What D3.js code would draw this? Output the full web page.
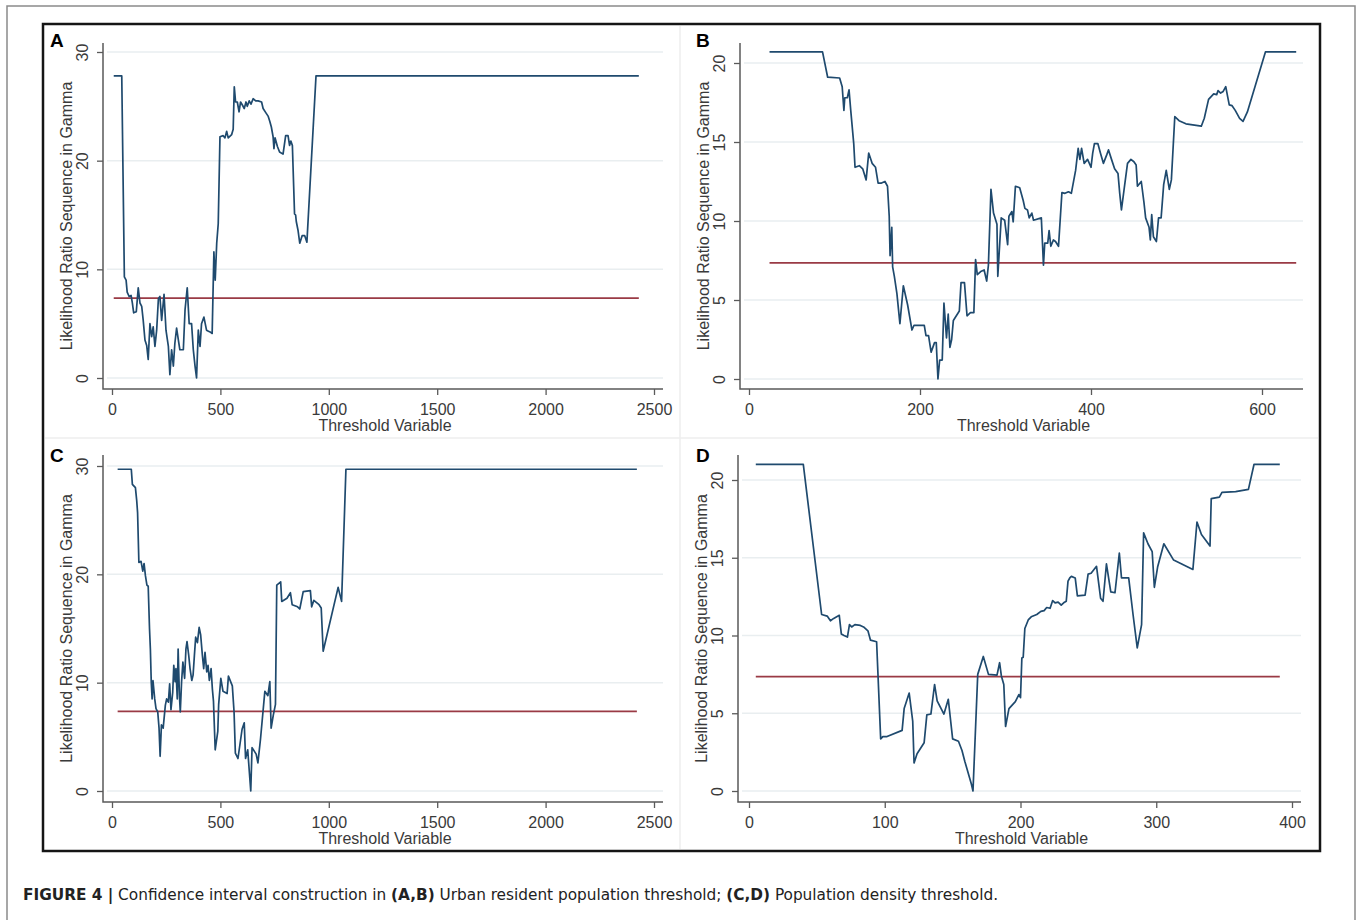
<!DOCTYPE html>
<html lang="en">
<head>
<meta charset="UTF-8">
<script src="https://d3js.org/d3.v7.min.js"></script>
<style>
  body { margin: 0; background: #fff; }
  text { font-family: 'Liberation Sans', Arial, sans-serif; fill: #3a3a3a; }
  .tick line { stroke: #5a5a5a; }
</style>
<title>Figure 4</title>
</head>
<body>
<div class="canvas"></div>
<script>
// threshold value (x) and likelihood ratio (y)
const aThreshold = [8,45,57,65,70,79,88,94,100,112,121,129,137,144,152,160,167,175,183,190,198,206,214,221,229,240,249,260,267,275,283,290,298,306,313,329,337,347,356,367,375,383,390,398,406,413,424,436,445,455,462,470,476,483,490,498,513,521,529,536,552,559,564,570,578,586,593,602,610,618,624,633,641,651,663,674,690,697,710,720,728,735,743,747,752,763,773,789,801,812,819,825,832,838,842,847,850,858,866,877,889,899,941,2430]
const aLR = [27.8,27.8,9.3,9.0,7.9,7.5,7.6,6.9,6.0,6.1,8.3,6.9,6.6,5.3,3.5,3.0,1.7,5.0,3.8,4.7,2.9,4.4,7.3,7.5,5.3,7.7,4.4,2.9,0.3,2.6,1.1,3.2,4.6,3.5,2.6,2.6,6.3,8.3,5.0,5.0,2.6,1.1,0.0,4.4,2.9,5.0,5.6,4.4,4.3,4.2,4.1,11.6,9.0,12.4,14.2,22.2,22.3,22.1,22.7,22.1,22.4,22.9,26.8,25.4,25.4,24.5,25.4,25.1,24.8,25.4,25.0,25.5,25.2,25.7,25.5,25.5,25.4,24.8,24.4,24.1,23.6,23.1,22.2,21.1,22.1,21.3,20.8,20.6,22.3,22.3,21.4,21.8,21.4,17.6,15.1,15.0,14.4,13.6,12.4,13.1,13.1,12.5,27.8,27.8]

const bThreshold = [24,86,92,106,109,111,112,115,117,119,122.5,124,129,133,137,140,144,148,151,155,159,162,164,165,167,168,170,173,176.5,180.5,185.5,190.6,193,205,207,210,213,217,219,221,223,226,228,231,233,235,237,239,246,248,252,255,259,263,265,267,271,275,278,280,283,286,290,291,295,299,302.5,304,307.5,309,311.6,316.6,320.7,322.7,325.7,327.7,330.8,332.8,341.9,344.4,345.9,349.4,351,353,356,358.5,362,366,369.6,373.6,377,382,385,387,389,392,396,400,402,404,408,411,414.5,418.5,420.5,424,427.6,431.6,433.6,435.6,438.6,442.7,446.7,450.2,452.8,454.3,458.8,461.9,463.9,467.9,469.4,471,473,476.5,479,482,485,488,491.6,494,498,503,511,529,532.5,537.5,543.5,547,548.6,551.6,554.6,557.6,559.7,561.7,565,568.7,573.8,577.8,582.9,604,640]
const bLR = [20.7,20.7,19.1,19.05,18.5,17.0,17.8,17.8,18.3,17.0,14.9,13.4,13.5,13.3,12.6,14.3,13.65,13.4,12.4,12.4,12.5,12.2,10.3,7.8,9.6,7.1,6.5,5.4,3.5,5.9,4.7,3.1,3.4,3.4,2.75,2.75,1.7,2.3,2.3,0,1.2,1.2,4.8,2.6,4.1,2.0,2.5,3.7,4.3,6.1,6.1,4.0,4.2,4.2,7.55,6.6,6.8,6.9,6.2,7.2,12.0,10.5,9.8,6.5,10.2,10.05,8.5,10.3,10.6,9.95,12.2,12.1,11.3,10.8,10.7,10.2,10.5,10.05,10.2,7.2,8.6,8.6,9.4,8.4,8.8,8.7,8.4,11.8,11.75,11.85,11.75,13.2,14.6,13.9,14.6,13.65,13.9,13.4,14.3,14.9,14.9,14.3,13.65,14.2,14.5,13.9,13.3,13.0,11.75,10.7,11.95,13.65,13.9,13.75,13.55,12.2,12.5,11.2,10.2,9.6,8.8,10.4,9.0,8.7,10.2,10.2,12.3,13.2,12.0,12.6,16.6,16.35,16.15,16.0,16.5,17.7,18.05,18.0,18.25,18.1,18.2,18.5,17.9,17.35,17.3,17.0,16.5,16.3,16.9,20.7,20.7]

const cThreshold = [26,89,94,108,114,118,124,134,142,148,154,161,167,173,177,181,185,189,197,203,211,217,222,228,236,246,252,260,266,272,280,285,291,295,301,305,311,315,321,327,335,341,346,354,360,368,374,380,386,394,402,409,417,423,429,437,443,449,457,463,468,476,488,492,502,512,531,537,555,563,569,581,600,610,616,626,640,646,665,673,685,705,719,728,734,744,754,760,778,783,807,823,831,856,866,882,915,921,931,955,965,974,1043,1059,1079,2421]
const cLR = [29.7,29.7,28.3,28.0,26.8,25.7,21.1,21.2,20.3,21.0,19.9,19.0,18.9,15.0,13.1,10.1,8.5,10.2,8.5,7.6,7.3,5.8,3.2,6.1,5.8,7.9,8.5,8.2,9.9,7.5,9.1,11.6,10.1,11.3,8.5,13.1,8.8,7.3,10.1,11.9,10.4,13.1,13.8,12.5,11.3,10.2,10.7,12.5,14.2,13.7,15.1,14.4,12.5,11.3,12.8,11.0,11.6,10.2,11.3,9.4,8.3,3.8,5.5,8.0,10.4,9.2,9.0,10.6,9.7,7.3,3.5,3.0,5.7,6.3,3.0,3.8,0.0,4.0,3.4,2.6,4.8,9.2,8.8,10.1,5.8,7.0,8.0,19.0,19.3,17.5,17.8,18.3,17.2,17.0,16.8,18.4,18.5,17.0,17.6,17.2,16.9,12.9,18.8,17.5,29.7,29.7]

const dThreshold = [5,40,53.5,57.6,60,62.4,66.5,68,70,72.5,74,75.6,78,82,84.4,87.6,89.5,94,97,98.6,101.7,112.8,114.3,118,120.6,121.6,123.8,129,131,134,136.7,138.6,143.6,146.8,150,154.3,156.9,159,163.8,165,168.5,172.6,176.4,182.7,184.6,185.9,187.7,189,191.5,196.2,198.8,200,201,202,203.2,205.7,207.9,212,215,217.4,219.3,221.8,223.7,225.5,227.7,230,231.8,233.7,235,236.3,237.5,240.3,241.9,247.6,249.8,252,256,259,260.8,263.3,266.5,269.6,272.8,274.4,279.7,282.9,286,289.2,290.7,293.9,297,298.6,301,305.6,312.8,327,330,333.3,339.6,340.5,346.5,348.4,358.5,367.9,372,391]
const dLR = [21.0,21.0,11.35,11.25,10.95,11.1,11.3,10.1,10.0,9.9,10.7,10.55,10.7,10.65,10.55,10.3,9.7,9.6,3.35,3.5,3.5,3.9,5.3,6.3,4.5,1.8,2.4,3.1,4.9,4.95,6.85,5.8,4.95,5.9,3.35,3.2,2.6,1.9,0.45,0,7.5,8.65,7.5,7.45,8.25,7.4,6.85,4.15,5.3,5.75,6.2,6.0,8.55,8.6,10.45,11.0,11.2,11.35,11.55,11.6,11.8,11.75,12.25,12.1,12.15,11.95,12.1,12.2,13.5,13.7,13.8,13.7,12.55,12.6,13.95,14.0,14.45,12.4,12.2,14.6,12.8,12.75,15.3,13.7,13.7,11.35,9.2,10.7,16.6,15.9,15.4,13.1,14.4,15.9,14.85,14.25,17.3,16.5,15.75,18.8,18.9,19.2,19.25,19.4,21.0,21.0]

// critical value (red line) and its x extent per panel
const critValue = 7.35
const critSpan = { A: [8, 2430], B: [24, 640], C: [26, 2421], D: [5, 391] }

const ticksPop = [0, 500, 1000, 1500, 2000, 2500]
const ticksB = [0, 200, 400, 600]
const ticksD = [0, 100, 200, 300, 400]
const ticksY30 = [0, 10, 20, 30]
const ticksY20 = [0, 5, 10, 15, 20]

const yTitle = 'Likelihood Ratio Sequence in Gamma'
const xTitle = 'Threshold Variable'
const caption = [
    { t: 'FIGURE 4 |', b: true },
    { t: ' Confidence interval construction in ', b: false },
    { t: '(A,B)', b: true },
    { t: ' Urban resident population threshold; ', b: false },
    { t: '(C,D)', b: true },
    { t: ' Population density threshold.', b: false }
]

const W = 1357, H = 920
const svg = d3.select('.canvas').append('svg')
    .attr('width', W).attr('height', H)

// outer figure border and black frame
svg.append('rect').attr('x', 7).attr('y', 6).attr('width', 1348).attr('height', 930)
    .attr('fill', 'none').attr('stroke', '#8a8a8a').attr('stroke-width', 1.5)
svg.append('line').attr('x1', 680).attr('x2', 680).attr('y1', 26).attr('y2', 849)
    .attr('stroke', '#eeeeee').attr('stroke-width', 1.5)
svg.append('line').attr('x1', 45).attr('x2', 1318).attr('y1', 438).attr('y2', 438)
    .attr('stroke', '#eeeeee').attr('stroke-width', 1.5)
svg.append('rect').attr('x', 43).attr('y', 24).attr('width', 1277).attr('height', 827)
    .attr('fill', 'none').attr('stroke', '#151515').attr('stroke-width', 2.5)

const panels = [
    { id: 'A', xs: aThreshold, ys: aLR, xDom: [0, 2500], xRange: [112, 654], yDom: [0, 30], yRange: [378, 52],
      xTicks: ticksPop, yTicks: ticksY30, axisX: 103, axisY: 389, axisTop: 43, axisEnd: 663, labelX: 50, labelY: 47 },
    { id: 'B', xs: bThreshold, ys: bLR, xDom: [0, 600], xRange: [749, 1262], yDom: [0, 20], yRange: [379, 63],
      xTicks: ticksB, yTicks: ticksY20, axisX: 740, axisY: 389, axisTop: 43, axisEnd: 1303, labelX: 696, labelY: 47 },
    { id: 'C', xs: cThreshold, ys: cLR, xDom: [0, 2500], xRange: [112, 654], yDom: [0, 30], yRange: [791, 466],
      xTicks: ticksPop, yTicks: ticksY30, axisX: 103, axisY: 802, axisTop: 455, axisEnd: 663, labelX: 50, labelY: 462 },
    { id: 'D', xs: dThreshold, ys: dLR, xDom: [0, 400], xRange: [749, 1292], yDom: [0, 20], yRange: [791, 480],
      xTicks: ticksD, yTicks: ticksY20, axisX: 738, axisY: 802, axisTop: 455, axisEnd: 1301, labelX: 696, labelY: 462 }
]

panels.forEach(p => {
    const x = d3.scaleLinear().domain(p.xDom).range(p.xRange)
    const y = d3.scaleLinear().domain(p.yDom).range(p.yRange)
    const g = svg.append('g')

    // gridlines
    g.selectAll('.grid').data(p.yTicks).enter().append('line')
        .attr('x1', p.axisX + 4).attr('x2', p.axisEnd)
        .attr('y1', d => y(d)).attr('y2', d => y(d))
        .attr('stroke', '#e9eef0').attr('stroke-width', 1.5)

    const xAxisG = g.append('g').attr('transform', `translate(0,${p.axisY})`)
        .call(d3.axisBottom(x).tickValues(p.xTicks).tickFormat(d3.format('d')).tickSize(6).tickPadding(9))
    xAxisG.select('.domain').remove()
    xAxisG.selectAll('text').style('font-size', '16px')
    xAxisG.selectAll('line').attr('stroke-width', 1.3)

    const yAxisG = g.append('g').attr('transform', `translate(${p.axisX},0)`)
        .call(d3.axisLeft(y).tickValues(p.yTicks).tickFormat(d3.format('d')).tickSize(6))
    yAxisG.select('.domain').remove()
    yAxisG.selectAll('line').attr('stroke-width', 1.3)
    yAxisG.selectAll('text')
        .style('font-size', '16px')
        .attr('x', null).attr('dy', null)
        .attr('text-anchor', 'middle')
        .attr('transform', 'translate(-15,0) rotate(-90)')

    // axis lines (Stata style, longer than the data range)
    g.append('path')
        .attr('d', `M${p.axisX},${p.axisTop}V${p.axisY}H${p.axisEnd}`)
        .attr('fill', 'none').attr('stroke', '#5a5a5a').attr('stroke-width', 1.5)

    // critical value line
    const line = d3.line().x(d => x(d[0])).y(d => y(d[1]))
    g.append('path')
        .datum(critSpan[p.id].map(v => [v, critValue]))
        .attr('d', line)
        .attr('fill', 'none').attr('stroke', '#9a3a45').attr('stroke-width', 1.8)

    // LR sequence
    g.append('path')
        .datum(p.xs.map((v, i) => [v, p.ys[i]]))
        .attr('d', line)
        .attr('fill', 'none').attr('stroke', '#1f4a6e').attr('stroke-width', 1.7)
        .attr('stroke-linejoin', 'round')

    // titles
    const midY = (p.axisTop + p.axisY) / 2
    g.append('text')
        .attr('transform', `translate(${p.axisX - 31},${midY}) rotate(-90)`)
        .attr('text-anchor', 'middle')
        .style('font-size', '16px')
        .text(yTitle)
    g.append('text')
        .attr('x', (p.axisX + p.axisEnd) / 2 + 2).attr('y', p.axisY + 42)
        .attr('text-anchor', 'middle')
        .style('font-size', '16px')
        .text(xTitle)
    g.append('text')
        .attr('x', p.labelX).attr('y', p.labelY)
        .style('font-size', '19px').style('font-weight', 'bold')
        .style('fill', '#000')
        .text(p.id)
})

const cap = svg.append('text')
    .attr('x', 23).attr('y', 900)
    .attr('textLength', 975).attr('lengthAdjust', 'spacingAndGlyphs')
    .style('font-size', '16px')
    .style('font-family', "'Liberation Sans Narrow', 'DejaVu Sans Condensed', 'Liberation Sans', sans-serif")
cap.selectAll('tspan').data(caption).enter().append('tspan')
    .style('font-weight', d => d.b ? 'bold' : 'normal')
    .style('fill', '#222')
    .text(d => d.t)
</script>
</body>
</html>
